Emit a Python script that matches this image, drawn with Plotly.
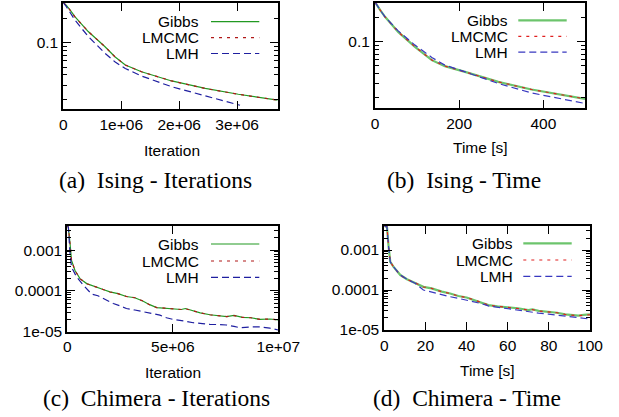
import plotly.graph_objects as go
import math

W, H = 619, 417

# ---------------- data ----------------
a_x_gibbs = [0, 0.05e6, 0.116e6, 0.2e6, 0.43e6, 0.72e6, 0.89e6, 1.07e6, 1.35e6, 1.87e6, 2.45e6, 3.02e6, 3.7e6]
a_gibbs = [0.31, 0.29, 0.253, 0.209, 0.137, 0.089, 0.067, 0.053, 0.0438, 0.0337, 0.0273, 0.0231, 0.0196]
a_lmcmc = [0.31, 0.29, 0.252, 0.208, 0.137, 0.089, 0.067, 0.053, 0.0437, 0.0337, 0.0272, 0.0231, 0.0195]
a_x_lmh = [0, 0.05e6, 0.2e6, 0.43e6, 0.72e6, 0.89e6, 1.07e6, 1.35e6, 1.87e6, 2.45e6, 3.05e6]
a_lmh = [0.31, 0.28, 0.19, 0.119, 0.074, 0.058, 0.048, 0.0388, 0.0286, 0.022, 0.0169]

b_x = [0, 2.4, 12, 23.8, 55, 95, 135, 166, 214, 293, 372, 451, 499]
b_gibbs = [0.31, 0.3, 0.25, 0.205, 0.133, 0.0866, 0.059, 0.0497, 0.0422, 0.0316, 0.0254, 0.0216, 0.0194]
b_lmcmc = [0.31, 0.3, 0.25, 0.205, 0.133, 0.0868, 0.0592, 0.0498, 0.0421, 0.0316, 0.0254, 0.0216, 0.0194]
b_lmh = [0.31, 0.3, 0.25, 0.205, 0.137, 0.091, 0.0638, 0.0512, 0.0422, 0.0302, 0.023, 0.0192, 0.017]

c_x_gibbs = [0, 0.05e6, 0.13e6, 0.2e6, 0.36e6, 0.6e6, 0.92e6, 1.2e6, 1.39e6, 1.7e6, 2.02e6, 2.4e6, 2.8e6,
             3.2e6, 3.6e6, 3.9e6, 4.24e6, 4.6e6, 5.02e6, 5.4e6, 5.6e6, 5.97e6, 6.3e6, 6.76e6, 7.2e6,
             7.55e6, 7.9e6, 8.3e6, 8.7e6, 9.13e6, 9.6e6, 10e6]
c_gibbs = [4.0e-3, 3.6e-3, 1.43e-3, 5.6e-4, 3.2e-4, 2.0e-4, 1.51e-4, 1.36e-4, 1.25e-4, 1.08e-4, 9.5e-5,
           8.6e-5, 7.3e-5, 6.8e-5, 5.6e-5, 4.6e-5, 3.9e-5, 3.8e-5, 3.7e-5, 3.5e-5, 3.7e-5, 3.2e-5,
           2.9e-5, 2.6e-5, 2.45e-5, 2.35e-5, 2.5e-5, 2.25e-5, 2.2e-5, 2.0e-5, 2.05e-5, 1.95e-5]
c_lmcmc = [4.0e-3, 3.6e-3, 1.42e-3, 5.6e-4, 3.2e-4, 2.0e-4, 1.5e-4, 1.36e-4, 1.24e-4, 1.08e-4, 9.4e-5,
           8.6e-5, 7.3e-5, 6.8e-5, 5.6e-5, 4.6e-5, 3.9e-5, 3.8e-5, 3.7e-5, 3.5e-5, 3.65e-5, 3.2e-5,
           2.9e-5, 2.6e-5, 2.45e-5, 2.35e-5, 2.48e-5, 2.25e-5, 2.2e-5, 2.0e-5, 2.05e-5, 1.95e-5]
c_x_lmh = [0, 0.05e6, 0.13e6, 0.2e6, 0.44e6, 0.76e6, 1.16e6, 1.45e6, 1.71e6, 2.18e6, 2.5e6, 2.8e6, 3.2e6,
           3.6e6, 4.0e6, 4.39e6, 4.7e6, 5.02e6, 5.5e6, 5.97e6, 6.4e6, 6.76e6, 7.2e6, 7.55e6, 7.9e6,
           8.2e6, 8.6e6, 9.13e6, 9.6e6, 10e6]
c_lmh = [4.0e-3, 3.6e-3, 8.2e-4, 3.85e-4, 2.2e-4, 1.38e-4, 8.3e-5, 7.6e-5, 6.5e-5, 4.93e-5, 4.3e-5,
         3.7e-5, 3.4e-5, 3.1e-5, 2.9e-5, 2.55e-5, 2.2e-5, 2.0e-5, 1.85e-5, 1.66e-5, 1.58e-5, 1.51e-5,
         1.5e-5, 1.46e-5, 1.35e-5, 1.25e-5, 1.3e-5, 1.32e-5, 1.22e-5, 1.1e-5]

d_x = [0, 1.3, 2.1, 2.9, 4.5, 7.8, 11, 15, 19, 23, 28, 32, 36, 40, 44, 47, 50.6, 55, 60.3, 65, 70, 72,
       75, 79.8, 84, 87.9, 91, 94.3, 97, 100]
d_gibbs = [4.0e-3, 3.8e-3, 1.2e-3, 5.1e-4, 3.8e-4, 2.37e-4, 1.86e-4, 1.52e-4, 1.2e-4, 1.1e-4, 9.1e-5,
           8.2e-5, 7.1e-5, 6.5e-5, 5.6e-5, 5.0e-5, 4.2e-5, 3.9e-5, 3.7e-5, 3.5e-5, 3.16e-5, 3.3e-5,
           3.0e-5, 2.87e-5, 2.7e-5, 2.47e-5, 2.35e-5, 2.28e-5, 2.4e-5, 2.47e-5]
d_lmcmc = [4.0e-3, 3.8e-3, 1.2e-3, 5.1e-4, 3.8e-4, 2.36e-4, 1.85e-4, 1.52e-4, 1.19e-4, 1.1e-4, 9.0e-5,
           8.2e-5, 7.1e-5, 6.5e-5, 5.6e-5, 5.0e-5, 4.2e-5, 3.9e-5, 3.7e-5, 3.45e-5, 3.16e-5, 3.25e-5,
           3.0e-5, 2.85e-5, 2.7e-5, 2.45e-5, 2.35e-5, 2.28e-5, 2.35e-5, 2.4e-5]
d_lmh = [4.0e-3, 3.8e-3, 1.2e-3, 5.1e-4, 3.8e-4, 2.37e-4, 1.86e-4, 1.48e-4, 1.0e-4, 8.8e-5, 7.5e-5,
         6.8e-5, 6.2e-5, 5.6e-5, 5.1e-5, 4.6e-5, 4.0e-5, 3.7e-5, 3.5e-5, 3.2e-5, 2.87e-5, 2.8e-5,
         2.65e-5, 2.5e-5, 2.35e-5, 2.24e-5, 2.1e-5, 2.0e-5, 1.95e-5, 1.88e-5]

series_names = ["Gibbs", "LMCMC", "LMH"]
captions = ["(a)  Ising - Iterations", "(b)  Ising - Time", "(c)  Chimera - Iterations", "(d)  Chimera - Time"]
xtitles = ["Iteration", "Time [s]", "Iteration", "Time [s]"]

a_xticks = [0, 1e6, 2e6, 3e6]
a_xticktext = ["0", "1e+06", "2e+06", "3e+06"]
b_xticks = [0, 200, 400]
b_xticktext = ["0", "200", "400"]
c_xticks = [0, 5e6, 1e7]
c_xticktext = ["0", "5e+06", "1e+07"]
d_xticks = [0, 20, 40, 60, 80, 100]
d_xticktext = ["0", "20", "40", "60", "80", "100"]
ising_yticks = [0.1]
ising_yticktext = ["0.1"]
chimera_yticks = [1e-3, 1e-4, 1e-5]
chimera_yticktext = ["0.001", "0.0001", "1e-05"]

# ---------------- layout geometry (pixels) ----------------
panels = [
    dict(x0=63.3, x1=277.7, y0=3, y1=109, xr=[0, 3.7e6], yr=[0.0152, 0.308],
         xt=a_xticks, xtt=a_xticktext, yt=ising_yticks, ytt=ising_yticktext),
    dict(x0=375, x1=585, y0=3, y1=108.3, xr=[0, 499], yr=[0.0148, 0.305],
         xt=b_xticks, xtt=b_xticktext, yt=ising_yticks, ytt=ising_yticktext),
    dict(x0=67.3, x1=278.3, y0=226, y1=331.7, xr=[0, 1e7], yr=[1e-5, 3.9e-3],
         xt=c_xticks, xtt=c_xticktext, yt=chimera_yticks, ytt=chimera_yticktext),
    dict(x0=384.3, x1=590, y0=226, y1=330, xr=[0, 100], yr=[1e-5, 4.0e-3],
         xt=d_xticks, xtt=d_xticktext, yt=chimera_yticks, ytt=chimera_yticktext),
]

dark_cols = ["#229922", "#b01818", "#1f1fa0"]
light_cols = ["#6cc46c", "#e02020", "#3838c0"]
dashes = ["solid", "3px,5px", "7px,4px"]

data = [
    ([a_x_gibbs, a_x_gibbs, a_x_lmh], [a_gibbs, a_lmcmc, a_lmh], dark_cols, [1.2, 1.2, 1.2]),
    ([b_x, b_x, b_x], [b_gibbs, b_lmcmc, b_lmh], light_cols, [2.2, 1.2, 1.2]),
    ([c_x_gibbs, c_x_gibbs, c_x_lmh], [c_gibbs, c_lmcmc, c_lmh], dark_cols, [1.2, 1.2, 1.2]),
    ([d_x, d_x, d_x], [d_gibbs, d_lmcmc, d_lmh], light_cols, [2.2, 1.2, 1.2]),
]

fig = go.Figure()
SANS = "Liberation Sans"
SERIF = "Liberation Serif"
FS = 15.5

legend_pos = [
    dict(tx=200, sx0=211, sx1=259.3, ys=[21.7, 37.7, 53.5]),
    dict(tx=509.3, sx0=518.3, sx1=566.7, ys=[20.3, 36.3, 52.2]),
    dict(tx=200, sx0=211, sx1=259.3, ys=[244, 261, 277.3]),
    dict(tx=514, sx0=523.3, sx1=571.7, ys=[243.3, 260, 276.3]),
]
xtitle_pos = [(172, 150), (480, 147), (173.3, 372.3), (487, 370)]
caption_pos = [(155.5, 180), (463.8, 180), (156.7, 398), (467, 398)]

annotations = []
shapes = []
for i, p in enumerate(panels):
    n = "" if i == 0 else str(i + 1)
    xs, ys, cols, widths = data[i]
    for k in range(3):
        fig.add_trace(go.Scatter(
            x=xs[k], y=ys[k], mode="lines", name=series_names[k], showlegend=False,
            line=dict(color=cols[k], width=widths[k], dash=dashes[k]),
            xaxis="x" + n, yaxis="y" + n))
    xdom = [p["x0"] / W, p["x1"] / W]
    ydom = [1 - p["y1"] / H, 1 - p["y0"] / H]
    fig.layout["xaxis" + n] = dict(
        domain=xdom, range=p["xr"], anchor="y" + n, showgrid=False, zeroline=False, automargin=False,
        showline=True, linecolor="black", linewidth=2, mirror="ticks",
        ticks="inside", ticklen=8, tickwidth=1.2, tickcolor="black",
        tickmode="array", tickvals=p["xt"], ticktext=p["xtt"],
        tickfont=dict(family=SANS, size=FS, color="black"))
    fig.layout["yaxis" + n] = dict(
        domain=ydom, type="log", range=[math.log10(p["yr"][0]), math.log10(p["yr"][1])],
        anchor="x" + n, showgrid=False, zeroline=False, automargin=False,
        showline=True, linecolor="black", linewidth=2, mirror="ticks",
        ticks="inside", ticklen=8, tickwidth=1.2, tickcolor="black",
        tickmode="array", tickvals=p["yt"], ticktext=p["ytt"],
        tickfont=dict(family=SANS, size=FS, color="black"),
        minor=dict(ticks="inside", ticklen=4, tickwidth=1, tickcolor="black", dtick="D1", showgrid=False))
    lp = legend_pos[i]
    for k in range(3):
        yy = 1 - lp["ys"][k] / H
        annotations.append(dict(x=lp["tx"] / W, y=yy, xref="paper", yref="paper", text=series_names[k],
                                showarrow=False, xanchor="right", yanchor="middle", borderpad=0,
                                font=dict(family=SANS, size=FS, color="black")))
        shapes.append(dict(type="line", xref="paper", yref="paper", x0=lp["sx0"] / W, x1=lp["sx1"] / W,
                           y0=yy, y1=yy, line=dict(color=cols[k], width=widths[k], dash=dashes[k])))
    tx, ty = xtitle_pos[i]
    annotations.append(dict(x=tx / W, y=1 - ty / H, xref="paper", yref="paper", text=xtitles[i],
                            showarrow=False, xanchor="center", yanchor="middle",
                            font=dict(family=SANS, size=FS, color="black")))
    cx, cy = caption_pos[i]
    annotations.append(dict(x=cx / W, y=1 - cy / H, xref="paper", yref="paper", text=captions[i],
                            showarrow=False, xanchor="center", yanchor="middle",
                            font=dict(family=SERIF, size=23.5, color="black")))

fig.update_layout(width=W, height=H, autosize=False, margin=dict(l=0, r=0, t=0, b=0, pad=0),
                  paper_bgcolor="white", plot_bgcolor="white", showlegend=False,
                  annotations=annotations, shapes=shapes)
fig.write_html("out.html", config={"displayModeBar": False},
               post_script="document.body.style.margin='0';document.body.style.overflow='hidden';")
